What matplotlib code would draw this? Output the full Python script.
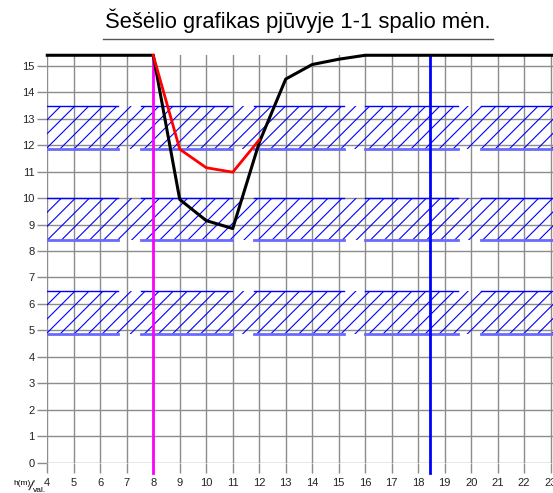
import numpy as np
import matplotlib.pyplot as plt
from matplotlib.collections import LineCollection
from matplotlib.patches import Rectangle

plt.rcParams['font.family'] = ['Liberation Sans', 'DejaVu Sans']

# shadow curve data
x_black = [4, 8, 9, 10, 11, 12, 13, 14, 15, 16, 23.1]
y_black = [15.4, 15.4, 9.95, 9.15, 8.85, 12.1, 14.5, 15.05, 15.25, 15.4, 15.4]
x_red = [8, 9, 10, 11, 12]
y_red = [15.4, 11.85, 11.15, 10.98, 12.2]

# hatched bands (bottom, top)
bands = [(11.85, 13.5), (8.4, 10.0), (4.85, 6.5)]
# pieces of the band edges
edge_segs = [(4, 6.67), (7.54, 10.96), (11.81, 15.2), (16.0, 19.5), (20.37, 23.1)]

x_magenta = 8
x_blue = 18.45
xticks = list(range(4, 24))
yticks = list(range(0, 16))

X0, X1 = 4, 23.1
hatch_step = 0.53

fig = plt.figure(figsize=(5.53, 4.93), dpi=100)
ax = fig.add_axes([0.0855, 0.0615, 0.915, 0.8264])
ax.set_xlim(X0, X1)
ax.set_ylim(0, 15.4)

for b, t in bands:
    h = t - b
    starts = np.arange(X0 - h, X1 + hatch_step, hatch_step)
    segs = [[(s, b), (s + h, t)] for s in starts]
    rect = Rectangle((X0, b), X1 - X0, h, transform=ax.transData,
                     facecolor='none', edgecolor='none')
    ax.add_patch(rect)
    lc = LineCollection(segs, colors='blue', linewidths=0.8, zorder=2)
    ax.add_collection(lc)
    lc.set_clip_path(rect)
    for s, e in edge_segs:
        ax.plot([s, e], [t, t], color='blue', lw=1, zorder=3)
        ax.plot([s, e], [b, b], color='#6a6aff', lw=2, zorder=3)

ax.set_xticks(xticks)
ax.set_yticks(yticks)
ax.grid(True, color='#8c8c8c', lw=1)
ax.set_axisbelow(True)
for sp in ax.spines.values():
    sp.set_visible(False)
ax.tick_params(direction='out', length=7, width=1, color='#8c8c8c',
               labelsize=8, pad=2, labelcolor='#222222')
ax.tick_params(axis='x', pad=4)

ax.axvline(x_magenta, ymin=-0.025, ymax=1, color='magenta', lw=2, clip_on=False, zorder=4)
ax.axvline(x_blue, ymin=-0.025, ymax=1, color='blue', lw=2, clip_on=False, zorder=4)

ax.plot(x_black, y_black, color='black', lw=2.2, clip_on=False, zorder=5)
ax.plot(x_red, y_red, color='red', lw=2, clip_on=False, zorder=6)

fig.text(0.539, 0.957, 'Šešėlio grafikas pjūvyje 1-1 spalio mėn.',
         ha='center', va='center', fontsize=15.8)
fig.add_artist(plt.Line2D([0.187, 0.892], [0.921, 0.921], color='#555555', lw=1))

fig.text(0.025, 0.016, 'h(m)', fontsize=6)
fig.text(0.049, 0.004, '/', fontsize=10, rotation=-15)
fig.text(0.060, 0.002, 'val.', fontsize=6)

plt.savefig('out.png', dpi=100)
